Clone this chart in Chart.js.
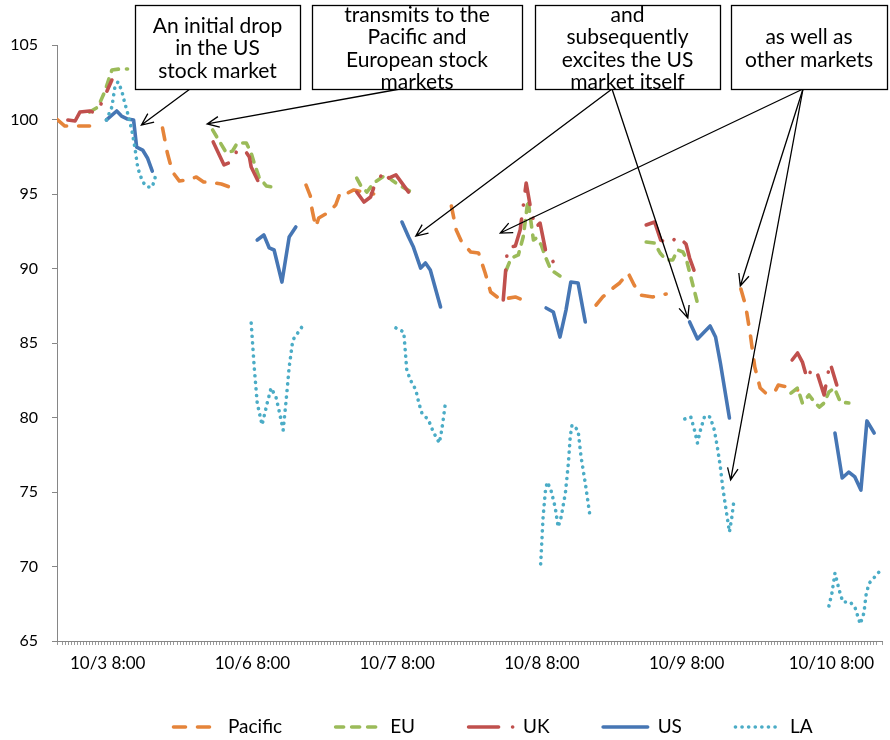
<!DOCTYPE html>
<html>
<head>
<meta charset="utf-8">
<script src="https://cdn.jsdelivr.net/npm/chart.js@4.4.0/dist/chart.umd.min.js"></script>
<style>
  html, body { margin: 0; padding: 0; background: #fff; }
  #wrap { width: 890px; height: 740px; }
</style>
</head>
<body>
<div id="wrap"><canvas id="myChart" width="890" height="740"></canvas></div>
<script>
// x = trading hours counted from 10/3 0:00 (weekend left out), one sub-array per session
const tickHours = [8, 32, 56, 80, 104, 128];
const tickLabels = ['10/3 8:00', '10/6 8:00', '10/7 8:00', '10/8 8:00', '10/9 8:00', '10/10 8:00'];

const pacific = [
  [[-0.4, 100.0], [0.9, 99.56], [5.0, 99.56]],
  [[17.1, 99.43], [17.9, 97.75], [18.75, 96.48], [19.9, 95.87], [21.2, 95.94], [22.7, 96.14], [23.9, 95.81], [25.7, 95.74], [26.85, 95.67], [28.2, 95.47]],
  [[40.9, 95.6], [41.6, 94.87], [41.9, 93.93], [42.5, 92.79], [43.0, 93.39], [44.7, 93.79], [45.8, 94.26], [46.6, 95.13], [47.8, 95.07], [48.8, 95.27], [50.5, 95.13], [52.1, 95.0]],
  [[65.0, 94.19], [65.8, 92.58], [66.7, 91.78], [68.2, 91.11], [69.5, 91.04], [70.6, 89.7], [71.5, 88.42], [72.8, 88.02], [73.6, 87.95], [75.6, 88.09], [76.8, 87.89]],
  [[89.0, 87.55], [90.1, 88.09], [91.8, 88.69], [92.9, 89.03], [94.3, 89.7], [95.3, 88.89], [96.3, 88.22], [98.4, 88.09], [100.6, 88.29]],
  [[113.0, 88.62], [113.8, 87.48], [114.6, 85.47], [115.3, 83.39], [116.2, 81.98], [117.1, 81.64], [118.6, 81.71], [119.2, 82.18], [120.7, 82.05], [122.4, 81.85]]
];

const eu = [
  [[5.0, 100.5], [6.4, 100.84], [7.5, 101.85], [8.7, 103.32], [10.0, 103.39], [11.3, 103.39]],
  [[25.4, 99.3], [26.2, 98.76], [27.7, 97.75], [28.7, 97.89], [29.5, 98.42], [31.0, 98.42], [31.8, 97.75], [32.3, 97.08], [33.1, 96.14], [34.3, 95.54], [35.3, 95.47]],
  [[49.3, 96.07], [50.1, 95.47], [51.0, 95.13], [52.1, 95.74], [54.1, 96.28], [55.1, 95.94], [56.3, 95.6], [58.4, 95.13]],
  [[74.1, 89.9], [74.9, 90.7], [76.1, 90.91], [76.9, 92.11], [77.7, 94.6], [78.6, 91.91], [79.1, 92.05], [79.9, 91.58], [80.6, 90.77], [81.5, 89.9], [83.0, 89.5]],
  [[97.3, 91.78], [98.7, 91.71], [99.6, 91.04], [100.6, 90.57], [101.7, 90.57], [102.5, 91.24], [103.4, 91.11], [103.9, 90.7], [104.7, 89.43], [105.8, 87.68]],
  [[121.3, 81.64], [122.4, 81.98], [123.2, 80.97], [124.3, 81.51], [125.2, 81.04], [126.0, 80.7], [126.8, 80.97], [127.6, 81.71], [128.5, 81.98], [129.5, 81.04], [130.9, 80.97]]
];

const uk = [
  [[1.4, 99.97], [2.6, 99.9], [3.4, 100.5], [5.0, 100.57], [6.0, 100.44], [7.0, 101.11], [8.7, 102.65]],
  [[25.5, 98.49], [27.3, 96.95], [28.5, 97.15], [29.5, 97.95], [30.6, 98.02], [31.5, 97.48], [31.8, 96.81], [33.5, 95.4]],
  [[49.3, 95.13], [50.5, 94.46], [51.6, 94.8], [52.1, 95.4], [53.8, 96.54], [54.6, 96.07], [55.8, 96.28], [57.9, 95.13]],
  [[73.6, 87.89], [74.3, 91.38], [75.6, 91.51], [76.4, 92.58], [77.4, 95.74], [78.1, 94.13], [78.9, 92.72], [79.7, 93.05], [80.6, 91.24], [81.9, 90.44]],
  [[97.3, 92.92], [98.7, 93.12], [99.7, 91.91], [101.2, 91.64], [102.5, 92.18], [103.9, 91.64], [104.5, 90.7], [105.8, 89.23]],
  [[121.5, 83.86], [122.4, 84.33], [123.2, 83.72], [124.0, 82.58], [124.8, 83.32], [125.7, 82.92], [126.8, 81.51], [127.3, 82.65], [127.8, 83.66], [128.9, 82.18]]
];

const us = [
  [[7.8, 99.97], [9.5, 100.57], [10.3, 100.23], [11.3, 100.03], [12.3, 99.97], [12.8, 98.15], [13.8, 97.95], [14.6, 97.42], [15.4, 96.54]],
  [[32.8, 91.91], [33.9, 92.25], [34.8, 91.38], [35.6, 91.24], [36.9, 89.09], [38.1, 92.11], [39.2, 92.79]],
  [[56.8, 93.12], [57.9, 92.11], [58.7, 91.44], [59.9, 90.03], [60.7, 90.37], [61.5, 89.9], [63.2, 87.42]],
  [[80.7, 87.35], [81.9, 87.08], [83.0, 85.4], [84.0, 87.21], [84.8, 89.09], [86.0, 89.03], [87.2, 86.41]],
  [[104.5, 86.41], [105.8, 85.27], [107.9, 86.14], [108.8, 85.4], [109.6, 83.66], [111.1, 79.97]],
  [[128.6, 78.96], [129.8, 75.94], [130.9, 76.34], [131.9, 76.01], [132.9, 75.13], [133.9, 79.77], [135.1, 78.96]]
];

const la = [
  [[7.8, 99.97], [8.7, 100.84], [9.2, 102.18], [9.7, 102.52], [10.3, 101.98], [10.8, 101.17], [11.3, 100.44], [12.0, 99.3], [12.5, 98.15], [13.0, 96.74], [13.8, 95.81], [14.6, 95.47], [15.4, 95.47], [16.1, 96.41]],
  [[31.8, 86.34], [32.3, 83.39], [32.8, 80.97], [33.6, 79.5], [34.5, 81.04], [35.1, 81.98], [35.9, 81.38], [36.4, 80.5], [37.1, 79.16], [37.6, 81.17], [38.1, 83.39], [38.7, 85.2], [40.2, 86.07]],
  [[55.8, 86.01], [57.1, 85.74], [57.6, 83.19], [58.2, 82.52], [59.1, 81.85], [59.6, 80.97], [60.1, 80.3], [61.2, 79.83], [62.0, 79.03], [63.0, 78.29], [63.4, 79.16], [63.7, 80.03], [64.0, 80.97]],
  [[79.8, 70.17], [80.2, 73.32], [80.6, 75.13], [80.9, 75.67], [81.5, 75.13], [82.2, 73.99], [82.7, 72.65], [83.2, 73.32], [83.9, 74.93], [84.4, 76.95], [84.7, 78.69], [85.0, 79.5], [86.0, 79.16], [86.5, 77.35], [87.2, 75.6], [88.0, 73.32]],
  [[103.7, 79.9], [104.7, 80.03], [105.3, 79.16], [105.8, 78.29], [106.3, 79.16], [107.0, 80.1], [107.9, 80.03], [108.6, 79.16], [109.1, 78.02], [109.6, 76.68], [109.9, 75.6], [110.3, 74.46], [110.8, 73.12], [111.1, 72.32], [111.5, 73.32], [111.9, 74.6]],
  [[127.6, 67.35], [128.1, 68.22], [128.6, 69.56], [129.3, 68.42], [129.9, 67.62], [131.1, 67.62], [131.9, 67.28], [132.8, 66.14], [133.4, 66.88], [133.8, 68.22], [134.3, 68.89], [135.9, 69.63]]
];

// call-out boxes: box in page pixels, arrow tips in chart units (hour, index)
const notes = [
  { lines: ['An initial drop', 'in the US', 'stock market'], box: [135, 5, 165, 84], from: [190, 89], tips: [[13.6, 99.63]] },
  { lines: ['transmits to the', 'Pacific and', 'European stock', 'markets'], box: [312, 5, 210, 84], from: [400, 89], tips: [[24.5, 99.7]] },
  { lines: ['and', 'subsequently', 'excites the US', 'market itself'], box: [535, 5, 185, 84], from: [612, 89], tips: [[59.1, 92.18], [104.2, 86.68]] },
  { lines: ['as well as', 'other markets'], box: [731, 5, 156, 84], from: [803, 89], tips: [[73.1, 92.38], [112.9, 88.83], [111.3, 75.81]] }
];

function toPoints(sessions) {
  const pts = [];
  sessions.forEach(function (s, i) {
    if (i > 0) pts.push({ x: s[0][0], y: null });
    s.forEach(function (p) { pts.push({ x: p[0], y: p[1] }); });
  });
  return pts;
}

function line(label, sessions, color, dash, order) {
  return {
    label: label,
    data: toPoints(sessions),
    borderColor: color,
    backgroundColor: color,
    borderWidth: 3.6,
    borderDash: dash,
    borderCapStyle: 'round',
    borderJoinStyle: 'round',
    pointRadius: 0,
    fill: false,
    spanGaps: false,
    tension: 0,
    order: order
  };
}

const notesPlugin = {
  id: 'notes',
  afterDraw(chart) {
    const ctx = chart.ctx;
    const xs = chart.scales.x, ys = chart.scales.y;
    ctx.save();
    ctx.strokeStyle = '#000';
    ctx.lineWidth = 1.3;
    ctx.setLineDash([]);
    notes.forEach(function (n) {
      n.tips.forEach(function (t) {
        const tx = xs.getPixelForValue(t[0]), ty = ys.getPixelForValue(t[1]);
        const a = Math.atan2(ty - n.from[1], tx - n.from[0]);
        ctx.beginPath();
        ctx.moveTo(n.from[0], n.from[1]);
        ctx.lineTo(tx, ty);
        ctx.moveTo(tx - 13 * Math.cos(a - 0.42), ty - 13 * Math.sin(a - 0.42));
        ctx.lineTo(tx, ty);
        ctx.lineTo(tx - 13 * Math.cos(a + 0.42), ty - 13 * Math.sin(a + 0.42));
        ctx.stroke();
      });
    });
    ctx.font = '21px Lato';
    ctx.textAlign = 'center';
    ctx.textBaseline = 'middle';
    notes.forEach(function (n) {
      const b = n.box;
      ctx.fillStyle = '#fff';
      ctx.fillRect(b[0], b[1], b[2], b[3]);
      ctx.strokeRect(b[0] + 0.5, b[1] + 0.5, b[2], b[3]);
      ctx.fillStyle = '#000';
      const cy = b[1] + b[3] / 2 + 1.5;
      n.lines.forEach(function (txt, i) {
        ctx.fillText(txt, b[0] + b[2] / 2, cy + (i - (n.lines.length - 1) / 2) * 22.5);
      });
    });
    ctx.restore();
  }
};

const keyPlugin = {
  id: 'keyRow',
  afterDraw(chart) {
    const ctx = chart.ctx;
    let x = 172;
    const y = 727;
    ctx.save();
    ctx.font = '19px Lato';
    ctx.textBaseline = 'middle';
    ctx.textAlign = 'left';
    chart.data.datasets.forEach(function (ds) {
      ctx.strokeStyle = ds.borderColor;
      ctx.lineWidth = ds.borderWidth;
      ctx.lineCap = ds.borderCapStyle;
      ctx.setLineDash(ds.borderDash || []);
      ctx.beginPath();
      ctx.moveTo(x + 1.5, y);
      ctx.lineTo(x + 46, y);
      ctx.stroke();
      ctx.setLineDash([]);
      ctx.fillStyle = '#000';
      ctx.fillText(ds.label, x + 56, y);
      x += 56 + ctx.measureText(ds.label).width + 52;
    });
    ctx.restore();
  }
};

Chart.defaults.font.family = 'Lato';
Chart.defaults.color = '#000';

new Chart('myChart', {
  type: 'line',
  data: {
    datasets: [
      line('Pacific', pacific, '#E5843A', [12, 12], 5),
      line('EU', eu, '#9BBB59', [8, 8], 4),
      line('UK', uk, '#C0504D', [30, 14, 0.1, 14], 3),
      line('US', us, '#4676B4', [], 2),
      line('LA', la, '#4BACC6', [0.1, 6.5], 1)
    ]
  },
  options: {
    responsive: false,
    animation: false,
    devicePixelRatio: 1,
    layout: { padding: { top: 45, left: 0, right: 5, bottom: 59 } },
    plugins: { legend: { display: false }, tooltip: { enabled: false } },
    scales: {
      x: {
        type: 'linear',
        min: -0.4,
        max: 136.4,
        afterFit: function (s) { s.height = 40; },
        border: { color: '#868686' },
        grid: { drawOnChartArea: false, drawTicks: true, tickLength: 4, color: '#9a9a9a' },
        ticks: {
          stepSize: 0.5,
          autoSkip: false,
          maxRotation: 0,
          minRotation: 0,
          padding: 8,
          font: { size: 17 },
          callback: function (v) {
            const i = tickHours.findIndex(function (h) { return Math.abs(h - v) < 1e-6; });
            return i >= 0 ? tickLabels[i] : '';
          }
        }
      },
      y: {
        min: 65,
        max: 105,
        afterFit: function (s) { s.width = 57; },
        border: { color: '#868686' },
        grid: { drawOnChartArea: false, drawTicks: true, tickLength: 5, color: '#868686' },
        ticks: { stepSize: 5, padding: 14, font: { size: 16 } }
      }
    }
  },
  plugins: [notesPlugin, keyPlugin]
});
</script>
</body>
</html>
